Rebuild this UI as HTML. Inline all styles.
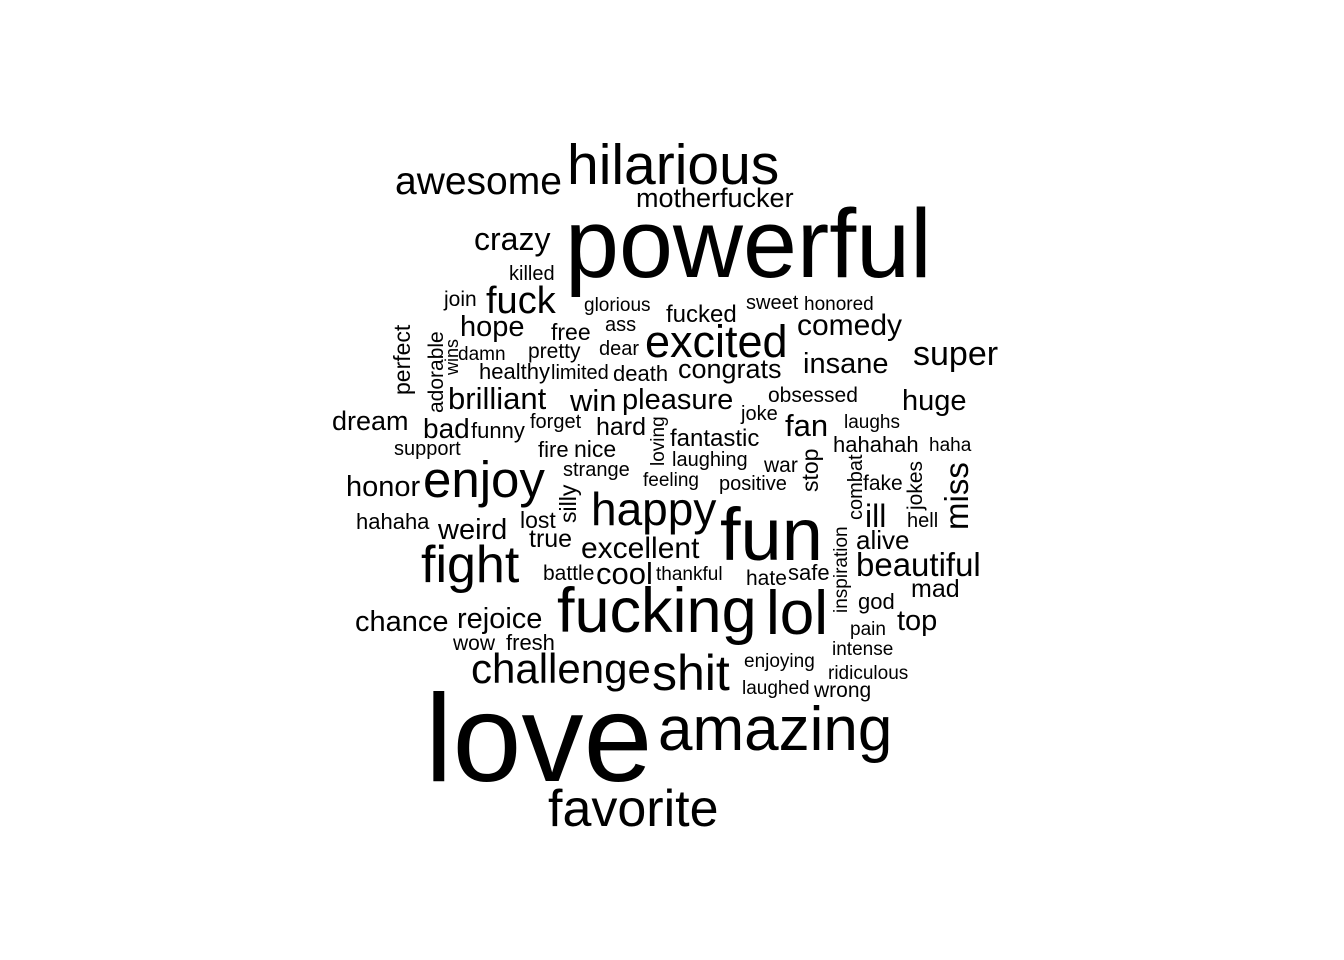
<!DOCTYPE html>
<html>
<head>
<meta charset="utf-8">
<style>
  html,body{margin:0;padding:0;background:#fff;}
  svg{display:block;}
  text{font-family:"Liberation Sans",Arial,sans-serif;fill:#000;}
</style>
</head>
<body>
<svg id="cloud" width="1344" height="960" viewBox="0 0 1344 960" xmlns="http://www.w3.org/2000/svg">
  <rect width="1344" height="960" fill="#fff"></rect>
</svg>
<script>
// word cloud data: words and their sizes (relative frequency -> font size px)
const words = ["love","powerful","fun","fucking","lol","amazing","hilarious","favorite","fight","enjoy","shit","happy","excited","challenge","awesome","fuck","miss","beautiful","super","crazy","brilliant","ill","win","fan","cool","comedy","excellent","pleasure","hope","honor","insane","weird","chance","rejoice","huge","dream","top","bad","congrats","motherfucker","mad","alive","hard","true","fantastic","fucked","hahahah","nice","stop","silly","pretty","free","lost","healthy","funny","fresh","hahaha","safe","death","god","join","fire","wrong","obsessed","war","ass","sweet","laughing","fake","jokes","battle","adorable","perfect","hate","wow","killed","limited","support","forget","combat","dear","joke","positive","glorious","honored","hell","thankful","inspiration","ridiculous","feeling","damn","strange","loving","laughs","pain","enjoying","intense","laughed","haha","wins"];
const sizes = [124,97,74,63,62,62,57,52,52,51,50,46,45,42,39,38,33,33,34,32,31,32,31,31,31,30,30,29,29,29,29,29,29,29,29,27,29,28,27,27,25,26,25,25,24,24,22,23,23,23,21,23,23,22,22,22,22,22,22,22,21,22,21,21,21,20,20,20,21,21,21,21,23,21,21,20,20,20,20,20,20,20,20,19,19,20,19,19,19,19,19,20,19,19,19,19,19,19,19,18];
const rotated = ["miss","stop","silly","combat","jokes","adorable","perfect","inspiration","loving","wins"];
// layout (placement by the cloud algorithm)
const layout = {
 love:[425,781],powerful:[565,277],fun:[720,560],fucking:[557,632],lol:[766,634],amazing:[658,750],hilarious:[567,184],favorite:[548,826],fight:[421,582],enjoy:[423,497],shit:[652,690],happy:[591,525],excited:[645,357],challenge:[471,683],awesome:[395,194],fuck:[486,313],miss:[968,530],beautiful:[856,576],super:[913,365],crazy:[474,250],brilliant:[448,409],ill:[865,527],win:[570,411],fan:[785,436],cool:[596,584],comedy:[797,335],excellent:[581,558],pleasure:[622,409],hope:[460,336],honor:[346,496],insane:[803,373],weird:[438,539],chance:[355,631],rejoice:[457,628],huge:[902,410],dream:[332,430],top:[897,630],bad:[423,438],congrats:[678,378],motherfucker:[636,207],mad:[911,597],alive:[856,549],hard:[596,435],true:[529,547],fantastic:[670,446],fucked:[666,322],hahahah:[833,452],nice:[574,457],stop:[818,492],silly:[576,523],pretty:[528,358],free:[551,340],lost:[520,528],healthy:[479,379],funny:[471,438],fresh:[506,650],hahaha:[356,529],safe:[788,580],death:[613,381],god:[858,609],join:[444,306],fire:[538,457],wrong:[814,697],obsessed:[768,402],war:[764,472],ass:[605,331],sweet:[746,309],laughing:[672,466],fake:[863,490],jokes:[922,510],battle:[543,580],adorable:[443,413],perfect:[410,395],hate:[746,585],wow:[453,650],killed:[509,280],limited:[551,379],support:[394,455],forget:[530,428],combat:[862,520],dear:[599,355],joke:[741,420],positive:[719,490],glorious:[584,311],honored:[804,310],hell:[907,527],thankful:[656,580],inspiration:[847,613],ridiculous:[828,679],feeling:[643,486],damn:[458,360],strange:[563,476],loving:[664,466],laughs:[844,428],pain:[850,635],enjoying:[744,667],intense:[832,655],laughed:[742,694],haha:[929,451],wins:[458,375]
};
const svg = document.getElementById('cloud');
const NS = 'http://www.w3.org/2000/svg';
words.forEach((w, i) => {
  const p = layout[w];
  if (!p) return;
  const t = document.createElementNS(NS, 'text');
  
  
  t.setAttribute('font-size', sizes[i]);
  if (rotated.includes(w)) {
    t.setAttribute('transform', 'translate(' + p[0] + ',' + p[1] + ') rotate(-90)');
    t.setAttribute('x', 0);
    t.setAttribute('y', 0);
  } else {
    t.setAttribute('x', p[0]);
    t.setAttribute('y', p[1]);
  }
  t.textContent = w;
  svg.appendChild(t);
});
</script>
</body>
</html>
